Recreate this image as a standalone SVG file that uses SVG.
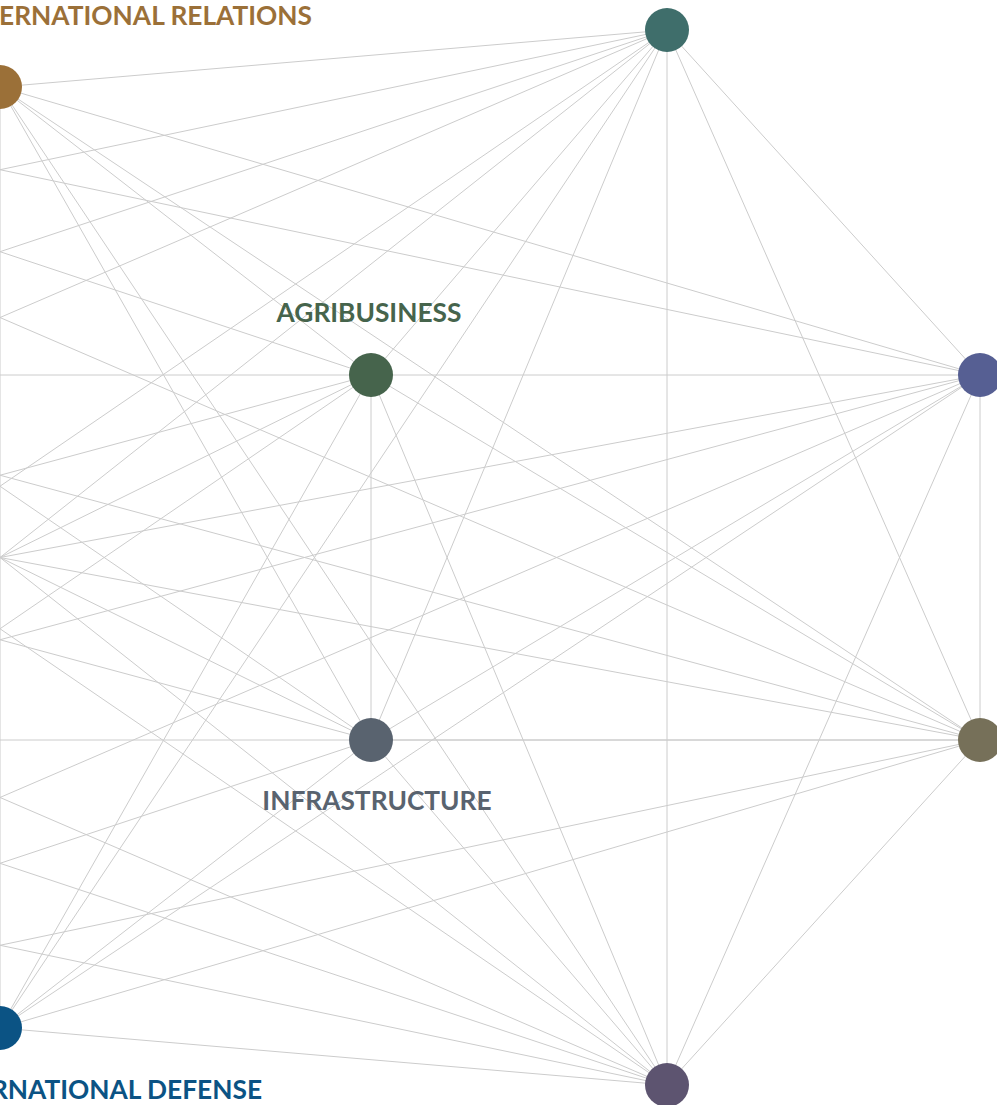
<svg xmlns="http://www.w3.org/2000/svg" width="997" height="1105" viewBox="0 0 997 1105">
<style>
.e{stroke:#cccccc;stroke-width:1;fill:none}
.lbl{font-family:Lato,"Noto Sans",sans-serif;font-weight:bold;font-size:26.3px}
</style>
<rect width="997" height="1105" fill="#ffffff"/>
<g id="connectors">
<line class="e" x1="0" y1="87" x2="667" y2="30"/>
<line class="e" x1="0" y1="87" x2="371" y2="375"/>
<line class="e" x1="0" y1="87" x2="980" y2="375"/>
<line class="e" x1="0" y1="87" x2="980" y2="740"/>
<line class="e" x1="0" y1="87" x2="371" y2="740"/>
<line class="e" x1="0" y1="87" x2="667" y2="1085"/>
<line class="e" x1="0" y1="87" x2="0" y2="1028"/>
<line class="e" x1="667" y1="30" x2="371" y2="375"/>
<line class="e" x1="667" y1="30" x2="980" y2="375"/>
<line class="e" x1="667" y1="30" x2="980" y2="740"/>
<line class="e" x1="667" y1="30" x2="371" y2="740"/>
<line class="e" x1="667" y1="30" x2="667" y2="1085"/>
<line class="e" x1="667" y1="30" x2="0" y2="1028"/>
<line class="e" x1="371" y1="375" x2="980" y2="375"/>
<line class="e" x1="371" y1="375" x2="980" y2="740"/>
<line class="e" x1="371" y1="375" x2="371" y2="740"/>
<line class="e" x1="371" y1="375" x2="667" y2="1085"/>
<line class="e" x1="371" y1="375" x2="0" y2="1028"/>
<line class="e" x1="980" y1="375" x2="980" y2="740"/>
<line class="e" x1="980" y1="375" x2="371" y2="740"/>
<line class="e" x1="980" y1="375" x2="667" y2="1085"/>
<line class="e" x1="980" y1="375" x2="0" y2="1028"/>
<line class="e" x1="980" y1="740" x2="371" y2="740"/>
<line class="e" x1="980" y1="740" x2="667" y2="1085"/>
<line class="e" x1="980" y1="740" x2="0" y2="1028"/>
<line class="e" x1="371" y1="740" x2="667" y2="1085"/>
<line class="e" x1="371" y1="740" x2="0" y2="1028"/>
<line class="e" x1="667" y1="1085" x2="0" y2="1028"/>
<line class="e" x1="-980" y1="375" x2="667" y2="30"/>
<line class="e" x1="-980" y1="740" x2="667" y2="30"/>
<line class="e" x1="-667" y1="1085" x2="667" y2="30"/>
<line class="e" x1="-371" y1="375" x2="667" y2="30"/>
<line class="e" x1="-371" y1="740" x2="667" y2="30"/>
<line class="e" x1="-667" y1="30" x2="371" y2="375"/>
<line class="e" x1="-980" y1="375" x2="371" y2="375"/>
<line class="e" x1="-980" y1="740" x2="371" y2="375"/>
<line class="e" x1="-667" y1="1085" x2="371" y2="375"/>
<line class="e" x1="-371" y1="740" x2="371" y2="375"/>
<line class="e" x1="-667" y1="30" x2="980" y2="375"/>
<line class="e" x1="-980" y1="740" x2="980" y2="375"/>
<line class="e" x1="-667" y1="1085" x2="980" y2="375"/>
<line class="e" x1="-371" y1="740" x2="980" y2="375"/>
<line class="e" x1="-667" y1="30" x2="980" y2="740"/>
<line class="e" x1="-980" y1="375" x2="980" y2="740"/>
<line class="e" x1="-667" y1="1085" x2="980" y2="740"/>
<line class="e" x1="-371" y1="375" x2="980" y2="740"/>
<line class="e" x1="-980" y1="740" x2="980" y2="740"/>
<line class="e" x1="-667" y1="30" x2="371" y2="740"/>
<line class="e" x1="-980" y1="375" x2="371" y2="740"/>
<line class="e" x1="-667" y1="1085" x2="371" y2="740"/>
<line class="e" x1="-371" y1="375" x2="371" y2="740"/>
<line class="e" x1="-667" y1="30" x2="667" y2="1085"/>
<line class="e" x1="-980" y1="375" x2="667" y2="1085"/>
<line class="e" x1="-980" y1="740" x2="667" y2="1085"/>
<line class="e" x1="-371" y1="375" x2="667" y2="1085"/>
<line class="e" x1="-371" y1="740" x2="667" y2="1085"/>
</g>
<g id="node-international-relations">
<circle cx="0" cy="87" r="22" fill="#9b7038"/>
<text class="lbl" x="312" y="25" text-anchor="end" fill="#9b7038">ERNATIONAL RELATIONS</text>
</g>
<g id="node-top">
<circle cx="667" cy="30" r="22" fill="#3f6e6b"/>
</g>
<g id="node-agribusiness">
<circle cx="371" cy="375" r="22" fill="#46644c"/>
<text class="lbl" x="369" y="322" text-anchor="middle" fill="#46644c">AGRIBUSINESS</text>
</g>
<g id="node-right-upper">
<circle cx="980" cy="375" r="22" fill="#565f93"/>
</g>
<g id="node-infrastructure">
<circle cx="371" cy="740" r="22" fill="#59636f"/>
<text class="lbl" x="377" y="810" text-anchor="middle" fill="#59636f">INFRASTRUCTURE</text>
</g>
<g id="node-right-lower">
<circle cx="980" cy="740" r="22" fill="#767059"/>
</g>
<g id="node-international-defense">
<circle cx="0" cy="1028" r="22" fill="#0b5384"/>
<text class="lbl" x="262" y="1099" text-anchor="end" fill="#0b5384">RNATIONAL DEFENSE</text>
</g>
<g id="node-bottom">
<circle cx="667" cy="1085" r="22" fill="#5d5470"/>
</g>
</svg>
